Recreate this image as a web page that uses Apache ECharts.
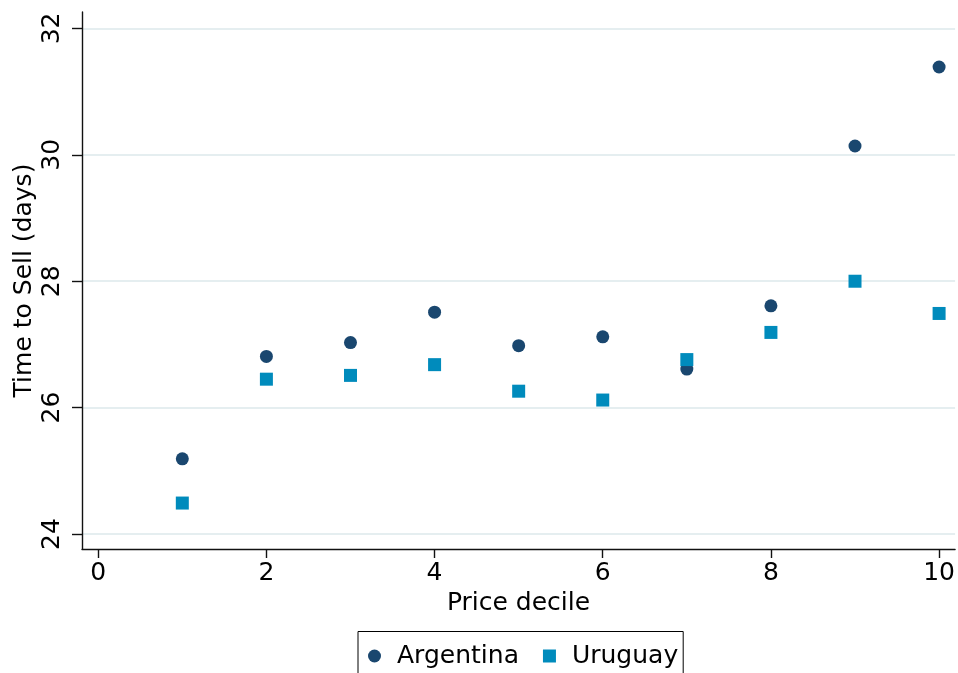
<!DOCTYPE html>
<html>
<head>
<meta charset="utf-8">
<script src="https://cdn.jsdelivr.net/npm/echarts@6/dist/echarts.min.js"></script>
<style>
  html, body { margin: 0; padding: 0; background: #fff; }
  #chart { width: 958px; height: 673px; }
</style>
</head>
<body>
<div id="chart"></div>
<script>
// Price deciles and mean time to sell (days) by country
const deciles = [1, 2, 3, 4, 5, 6, 7, 8, 9, 10];
const argentina = [25.19, 26.81, 27.03, 27.51, 26.98, 27.12, 26.61, 27.61, 30.14, 31.39];
const uruguay = [24.49, 26.45, 26.51, 26.68, 26.26, 26.12, 26.76, 27.19, 28.00, 27.49];
const xTicks = [0, 2, 4, 6, 8, 10];
const yTicks = [24, 26, 28, 30, 32];

const FONT = 'DejaVu Sans';
const FONT_SIZE = 25;
const AXIS_COLOR = '#111';

const chart = echarts.init(document.getElementById('chart'), null, { renderer: 'canvas' });

chart.setOption({
  backgroundColor: '#ffffff',
  animation: false,
  textStyle: { fontFamily: FONT, color: '#000' },
  grid: { left: 82, top: 12, right: 1, bottom: 124, containLabel: false },
  legend: {
    left: 358,
    top: 631.5,
    orient: 'horizontal',
    padding: [12, 5, 20, 10],
    borderColor: '#000',
    borderWidth: 1,
    itemWidth: 13,
    itemHeight: 13,
    itemGap: 24,
    textStyle: { fontFamily: FONT, fontSize: FONT_SIZE, color: '#000', padding: [0, 0, 0, 11] },
    data: [
      { name: 'Argentina', icon: 'circle' },
      { name: 'Uruguay', icon: 'rect' }
    ]
  },
  xAxis: {
    type: 'value',
    min: -0.193,
    max: 10.19,
    name: 'Price decile',
    nameLocation: 'middle',
    nameGap: 38,
    nameTextStyle: { fontFamily: FONT, fontSize: FONT_SIZE, color: '#000' },
    axisLine: { show: true, onZero: false, lineStyle: { color: AXIS_COLOR, width: 1.4 } },
    axisTick: { show: true, length: 9, customValues: xTicks, lineStyle: { color: AXIS_COLOR, width: 1.4 } },
    axisLabel: { customValues: xTicks, margin: 12, fontFamily: FONT, fontSize: FONT_SIZE, color: '#000' },
    splitLine: { show: false }
  },
  yAxis: {
    type: 'value',
    min: 23.763,
    max: 32.26,
    name: 'Time to Sell (days)',
    nameLocation: 'middle',
    nameGap: 45,
    nameMoveOverlap: false,
    nameTextStyle: { fontFamily: FONT, fontSize: FONT_SIZE, color: '#000' },
    axisLine: { show: true, onZero: false, lineStyle: { color: AXIS_COLOR, width: 1.4 } },
    axisTick: { show: true, length: 10, customValues: yTicks, lineStyle: { color: AXIS_COLOR, width: 1.4 } },
    axisLabel: { customValues: yTicks, rotate: 90, margin: 17, fontFamily: FONT, fontSize: FONT_SIZE, color: '#000' },
    splitLine: { show: true, lineStyle: { color: '#e5eef0', width: 2 } }
  },
  series: [
    {
      name: 'Argentina',
      type: 'scatter',
      symbol: 'circle',
      symbolSize: 13,
      itemStyle: { color: '#1a476f', opacity: 1 },
      data: deciles.map((d, i) => [d, argentina[i]])
    },
    {
      name: 'Uruguay',
      type: 'scatter',
      symbol: 'rect',
      symbolSize: 13,
      itemStyle: { color: '#008bbc', opacity: 1 },
      data: deciles.map((d, i) => [d, uruguay[i]])
    }
  ]
});
</script>
</body>
</html>
